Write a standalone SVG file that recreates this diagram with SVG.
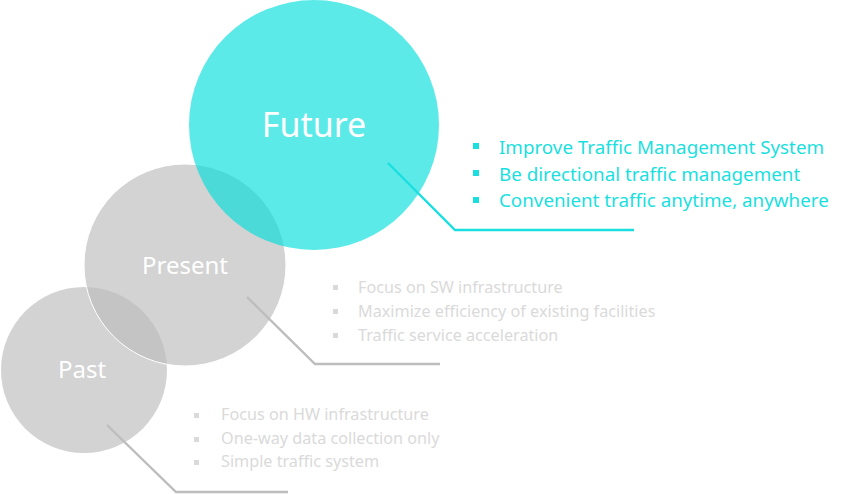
<svg xmlns="http://www.w3.org/2000/svg" width="864" height="494" viewBox="0 0 864 494">
<style>
.gray{fill:#bcbcbc;fill-opacity:0.66}
.title{font-family:"Noto Sans","Liberation Sans",sans-serif;fill:#fff;text-anchor:middle}
.fl{font-family:"Noto Sans","Liberation Sans",sans-serif;font-size:18.8px;fill:#1adfe0}
.gl{font-family:"Noto Sans","Liberation Sans",sans-serif;font-size:16.2px;fill:#dadada}
.conn{fill:none;stroke-width:2.4}
</style>
<rect width="864" height="494" fill="#fff"/>
<g id="past">
<circle class="gray" cx="84" cy="370" r="83"/>
<text class="title" x="82" y="378" font-size="24">Past</text>
</g>
<g id="present">
<circle class="gray" cx="185" cy="265" r="101" stroke="#fff" stroke-width="1"/>
<text class="title" x="185" y="274" font-size="24">Present</text>
</g>
<g id="future">
<circle cx="314" cy="125" r="125" fill="#00dedc" fill-opacity="0.64"/>
<text class="title" x="314" y="137" font-size="34">Future</text>
</g>
<g id="connectors">
<polyline class="conn" stroke="#1adfe0" points="388,163 455,230 634,230"/>
<polyline class="conn" stroke="#bdbdbd" points="247,297 315,364 440,364"/>
<polyline class="conn" stroke="#bdbdbd" points="107,425 176,492 288,492"/>
</g>
<g id="future-list">
<rect x="473" y="143" width="6" height="6" fill="#1adfe0"/>
<rect x="473" y="170" width="6" height="6" fill="#1adfe0"/>
<rect x="473" y="197" width="6" height="6" fill="#1adfe0"/>
<text class="fl" x="499" y="154">Improve Traffic Management System</text>
<text class="fl" x="499" y="181">Be directional traffic management</text>
<text class="fl" x="499" y="207">Convenient traffic anytime, anywhere</text>
</g>
<g id="present-list">
<rect x="333" y="285" width="5" height="5" fill="#dadada"/>
<rect x="333" y="309" width="5" height="5" fill="#dadada"/>
<rect x="333" y="333" width="5" height="5" fill="#dadada"/>
<text class="gl" x="358" y="293">Focus on SW infrastructure</text>
<text class="gl" x="358" y="317">Maximize efficiency of existing facilities</text>
<text class="gl" x="358" y="341">Traffic service acceleration</text>
</g>
<g id="past-list">
<rect x="194" y="413" width="5" height="5" fill="#dadada"/>
<rect x="194" y="437" width="5" height="5" fill="#dadada"/>
<rect x="194" y="460" width="5" height="5" fill="#dadada"/>
<text class="gl" x="221" y="420">Focus on HW infrastructure</text>
<text class="gl" x="221" y="444">One-way data collection only</text>
<text class="gl" x="221" y="467">Simple traffic system</text>
</g>
</svg>
